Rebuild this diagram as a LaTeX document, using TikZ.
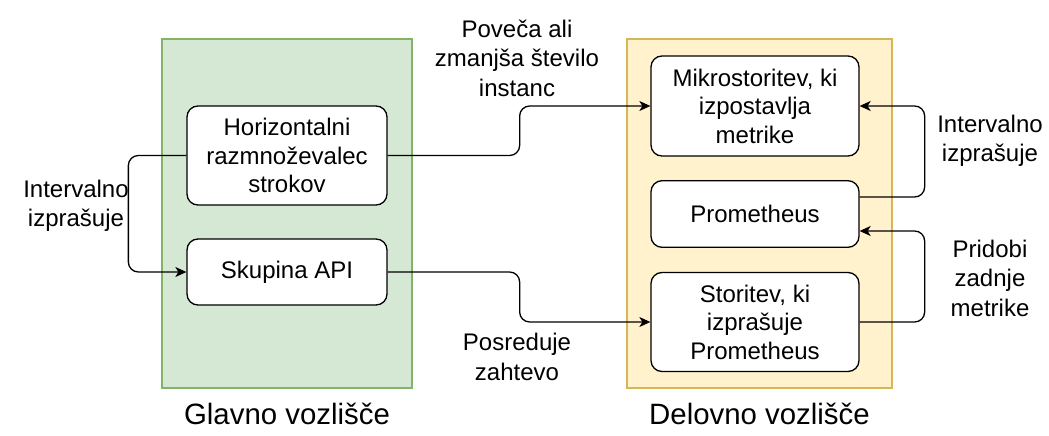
\documentclass[tikz,border=0pt]{standalone}
\usepackage{fontspec}
\setmainfont{Liberation Sans}
\usetikzlibrary{arrows.meta}

\definecolor{mainfill}{HTML}{D5E8D4}
\definecolor{maindraw}{HTML}{82B366}
\definecolor{workfill}{HTML}{FFF2CC}
\definecolor{workdraw}{HTML}{D6B656}

\begin{document}
\begin{tikzpicture}[x=1pt, y=-1pt,
  zone/.style={draw, line width=1.2pt},
  box/.style={draw, line width=1.3pt, rounded corners=11pt, fill=white, align=center, inner sep=0pt, font=\fontsize{24}{28.5}\selectfont},
  lbl/.style={align=center, inner sep=0pt, font=\fontsize{24}{29.5}\selectfont},
  title/.style={inner sep=0pt, font=\fontsize{29.4}{35}\selectfont},
  conn/.style={-{Stealth[length=11pt, width=10pt, inset=3pt]}, line width=1.3pt, rounded corners=10pt},
]
\useasboundingbox (0,0) rectangle (1049,436);

% Nodes (zones)
\node[zone, fill=mainfill, draw=maindraw, minimum width=250pt, minimum height=349pt] (mainzone) at (287,213.5) {};
\node[zone, fill=workfill, draw=workdraw, minimum width=265pt, minimum height=349pt] (workzone) at (759.5,213.5) {};

% Boxes in main node
\node[box, minimum width=200pt, minimum height=99pt] (hpa) at (287,155.5) {Horizontalni\\razmnoževalec\\strokov};
\node[box, minimum width=200pt, minimum height=66pt] (apigroup) at (287,272) {Skupina API};

% Boxes in worker node
\node[box, minimum width=208pt, minimum height=100pt] (micro) at (755,106) {Mikrostoritev, ki\\izpostavlja\\metrike};
\node[box, minimum width=208pt, minimum height=66.6pt] (prom) at (755,214) {Prometheus};
\node[box, minimum width=208pt, minimum height=99pt] (query) at (755,322) {Storitev, ki\\izprašuje\\Prometheus};

% Connectors
\draw[conn] (hpa.west) -- ++(-58,0) |- (apigroup.west);
\draw[conn] (hpa.east) -- ++(132,0) |- (micro.west);
\draw[conn] (apigroup.east) -- ++(132,0) |- (query.west);
\draw[conn] ([yshift=17pt]prom.east) -- ++(65,0) |- (micro.east);
\draw[conn] (query.east) -- ++(65,0) |- ([yshift=-17pt]prom.east);

% Labels
\node[lbl] (lpoll) at (76,206) {Intervalno\\izprašuje};
\node[lbl] (lscale) at (517,58) {Poveča ali\\zmanjša število\\instanc};
\node[lbl] (lforward) at (517,357) {Posreduje\\zahtevo};
\node[lbl] (lscrape) at (990,141) {Intervalno\\izprašuje};
\node[lbl] (lfetch) at (990,278) {Pridobi\\zadnje\\metrike};

% Titles
\node[title] (tmain) at (287,414) {Glavno vozlišče};
\node[title] (twork) at (759.5,414) {Delovno vozlišče};

\end{tikzpicture}
\end{document}
